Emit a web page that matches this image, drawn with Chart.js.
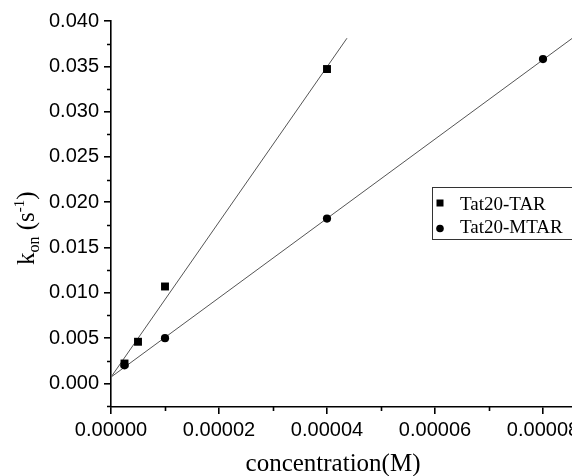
<!DOCTYPE html>
<html>
<head>
<meta charset="utf-8">
<script src="https://cdn.jsdelivr.net/npm/chart.js@4.4.0/dist/chart.umd.min.js"></script>
<style>
  html, body { margin: 0; padding: 0; background: #fff; overflow: hidden; width: 572px; height: 476px; }
  #wrap { width: 620px; height: 476px; }
</style>
</head>
<body>
<div id="wrap"><canvas id="chartKon" width="620" height="476"></canvas></div>
<script>
// k_on vs. concentration, two constructs
const concTAR = [0.0000025, 0.000005, 0.00001, 0.00004];
const konTAR = [0.0022, 0.0046, 0.0107, 0.0347];
const concMTAR = [0.0000025, 0.00001, 0.00004, 0.00008];
const konMTAR = [0.0020, 0.0050, 0.0182, 0.0358];

// linear fits (endpoints)
const fitTARx = [0, 0.0000437];
const fitTARy = [0.0007, 0.0381];
const fitMTARx = [0, 0.00009];
const fitMTARy = [0.0007, 0.0401];

// axis ticks
const xTicks = [0, 0.00002, 0.00004, 0.00006, 0.00008];
const xMinor = [0.00001, 0.00003, 0.00005, 0.00007];
const yTicks = [0, 0.005, 0.010, 0.015, 0.020, 0.025, 0.030, 0.035, 0.040];
const yMinor = [-0.0025, 0.0025, 0.0075, 0.0125, 0.0175, 0.0225, 0.0275, 0.0325, 0.0375];

const toPts = (xs, ys) => xs.map((x, i) => ({ x: x, y: ys[i] }));

const SERIF = '"Liberation Serif", "Times New Roman", serif';
const SANS = '"Liberation Sans", Arial, sans-serif';

// minor ticks, axis titles and the boxed legend
const extras = {
    id: 'extras',
    afterDraw(chart) {
        const ctx = chart.ctx;
        const xs = chart.scales.x, ys = chart.scales.y;
        const area = chart.chartArea;
        ctx.save();
        ctx.strokeStyle = '#000';
        ctx.lineWidth = 1.6;
        ctx.beginPath();
        xMinor.forEach(v => {
            const px = Math.round(xs.getPixelForValue(v)) + 0.5;
            ctx.moveTo(px, area.bottom);
            ctx.lineTo(px, area.bottom + 4);
        });
        yMinor.forEach(v => {
            const py = Math.round(ys.getPixelForValue(v)) + 0.5;
            ctx.moveTo(area.left, py);
            ctx.lineTo(area.left - 4, py);
        });
        ctx.stroke();

        // x title
        ctx.fillStyle = '#000';
        ctx.font = '25px ' + SERIF;
        ctx.textAlign = 'center';
        ctx.textBaseline = 'alphabetic';
        ctx.fillText('concentration(M)', 333, 471);

        // y title: k_on (s^-1)
        ctx.save();
        ctx.translate(34, 265);
        ctx.rotate(-Math.PI / 2);
        ctx.textAlign = 'left';
        let cx = 0;
        const part = (txt, size, dy) => {
            ctx.font = size + 'px ' + SERIF;
            ctx.fillText(txt, cx, dy);
            cx += ctx.measureText(txt).width;
        };
        part('k', 25, 0);
        part('on', 16, 5);
        part(' (s', 25, 0);
        part('-1', 15, -10);
        part(')', 25, 0);
        ctx.restore();

        // legend
        ctx.lineWidth = 1;
        ctx.strokeStyle = '#333';
        ctx.strokeRect(432.5, 187.5, 200, 52);
        ctx.fillStyle = '#000';
        ctx.fillRect(436.5, 199.5, 7, 7);
        ctx.beginPath();
        ctx.arc(440, 228.5, 3.8, 0, Math.PI * 2);
        ctx.fill();
        ctx.font = '19px ' + SERIF;
        ctx.textAlign = 'left';
        ctx.fillText('Tat20-TAR', 460, 210);
        ctx.fillText('Tat20-MTAR', 460, 233);
        ctx.restore();
    }
};

const ctxKon = document.getElementById('chartKon').getContext('2d');
new Chart(ctxKon, {
    type: 'scatter',
    data: {
        datasets: [
            {
                label: 'fit TAR',
                type: 'line',
                data: toPts(fitTARx, fitTARy),
                borderColor: '#555',
                borderWidth: 1,
                pointRadius: 0,
                fill: false,
                order: 2
            },
            {
                label: 'fit MTAR',
                type: 'line',
                data: toPts(fitMTARx, fitMTARy),
                borderColor: '#555',
                borderWidth: 1,
                pointRadius: 0,
                fill: false,
                order: 2
            },
            {
                label: 'Tat20-TAR',
                data: toPts(concTAR, konTAR),
                pointStyle: 'rect',
                pointRadius: 5.6,
                backgroundColor: '#000',
                borderWidth: 0,
                order: 1
            },
            {
                label: 'Tat20-MTAR',
                data: toPts(concMTAR, konMTAR),
                pointStyle: 'circle',
                pointRadius: 4.1,
                backgroundColor: '#000',
                borderWidth: 0,
                order: 1
            }
        ]
    },
    options: {
        responsive: false,
        animation: false,
        events: [],
        layout: { padding: { top: 21, left: 0, right: 23, bottom: 0 } },
        plugins: {
            legend: { display: false },
            tooltip: { enabled: false }
        },
        scales: {
            x: {
                type: 'linear',
                min: 0,
                max: 0.00009,
                afterBuildTicks: s => { s.ticks = xTicks.map(v => ({ value: v })); },
                afterFit: s => { s.height = 69; },
                border: { display: true, color: '#000', width: 1.6 },
                grid: { drawOnChartArea: false, drawTicks: true, tickLength: 7, color: '#000', lineWidth: 1.6 },
                ticks: {
                    color: '#000',
                    padding: 4,
                    maxRotation: 0,
                    font: { family: SANS, size: 20 },
                    callback: v => v.toFixed(5)
                }
            },
            y: {
                type: 'linear',
                min: -0.0026,
                max: 0.040,
                afterBuildTicks: s => { s.ticks = yTicks.map(v => ({ value: v })); },
                afterFit: s => { s.width = 111; },
                border: { display: true, color: '#000', width: 1.6 },
                grid: { drawOnChartArea: false, drawTicks: true, tickLength: 7, color: '#000', lineWidth: 1.6 },
                ticks: {
                    color: '#000',
                    padding: 5,
                    font: { family: SANS, size: 20 },
                    callback: v => v.toFixed(3)
                }
            }
        }
    },
    plugins: [extras]
});
</script>
</body>
</html>
